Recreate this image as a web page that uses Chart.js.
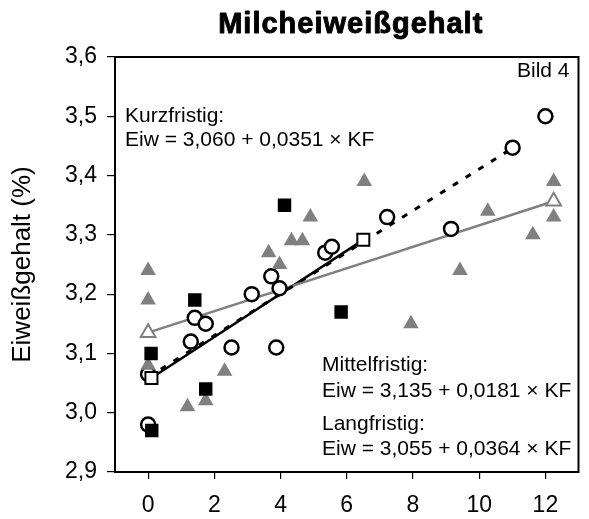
<!DOCTYPE html>
<html>
<head>
<meta charset="utf-8">
<script src="https://cdn.jsdelivr.net/npm/chart.js@4.4.1/dist/chart.umd.min.js"></script>
<style>
  html, body { margin: 0; padding: 0; background: #fff; }
</style>
</head>
<body>
<canvas id="milk" width="589" height="519"></canvas>
<script>
const FONT = '"Liberation Sans", Arial, Helvetica, sans-serif';
Chart.defaults.font.family = FONT;
Chart.defaults.color = '#000';

// ── Daten ─────────────────────────────────────────────────────────
const circleX = [0, 0, 1.29, 1.41, 1.74, 2.52, 3.13, 3.72, 3.97, 3.87, 5.35, 5.55, 7.22, 9.15, 11.01, 12.0];
const circleY = [3.065, 2.98, 3.12, 3.16, 3.15, 3.11, 3.20, 3.23, 3.21, 3.11, 3.27, 3.28, 3.33, 3.31, 3.447, 3.50];

const triX = [0, 0, 0, 1.19, 1.74, 2.31, 3.64, 3.97, 4.33, 4.66, 4.9, 6.53, 7.94, 9.42, 10.26, 11.62, 12.25, 12.25];
const triY = [3.24, 3.19, 3.08, 3.01, 3.02, 3.07, 3.27, 3.25, 3.29, 3.29, 3.33, 3.39, 3.15, 3.24, 3.34, 3.30, 3.39, 3.33];

const squareX = [0.09, 0.11, 1.41, 1.74, 4.12, 5.83];
const squareY = [3.10, 2.97, 3.19, 3.04, 3.35, 3.17];

// Regressionen: Eiw = a + b * KF, gezeichnet von x0 bis x1
const kurzFit   = { a: 3.060, b: 0.0351, x0: 0,   x1: 11.01 };
const mittelFit = { a: 3.135, b: 0.0181, x0: 0,   x1: 12.25 };
const langFit   = { a: 3.055, b: 0.0364, x0: 0.1, x1: 6.5 };

const xTicks = [0, 2, 4, 6, 8, 10, 12];
const yTicks = [2.9, 3.0, 3.1, 3.2, 3.3, 3.4, 3.5, 3.6];

const labels = {
    title: 'Milcheiweißgehalt',
    yTitle: 'Eiweißgehalt (%)',
    bild: 'Bild 4',
    kurz: ['Kurzfristig:', 'Eiw = 3,060 + 0,0351 × KF'],
    mittel: ['Mittelfristig:', 'Eiw = 3,135 + 0,0181 × KF'],
    lang: ['Langfristig:', 'Eiw = 3,055 + 0,0364 × KF'],
};

const pts = (xs, ys) => xs.map((x, i) => ({ x, y: ys[i] }));
const fitPts = (f) => [f.x0, f.x1].map(x => ({ x, y: f.a + f.b * x }));

const GRAY = '#808080';

// ── Beschriftung / Rahmen ─────────────────────────────────────────
const decor = {
    id: 'decor',
    afterDraw(chart) {
        const { ctx, chartArea: a } = chart;
        ctx.save();
        ctx.strokeStyle = '#000';
        ctx.lineWidth = 2;
        ctx.strokeRect(a.left, a.top, a.right - a.left, a.bottom - a.top);

        ctx.fillStyle = '#000';
        ctx.font = 'bold 29px ' + FONT;
        ctx.letterSpacing = '1px';
        ctx.textAlign = 'center';
        ctx.textBaseline = 'alphabetic';
        ctx.lineWidth = 0.9;
        ctx.lineJoin = 'round';
        const tx = (a.left + a.right) / 2 + 4;
        ctx.fillText(labels.title, tx, 33);
        ctx.strokeText(labels.title, tx, 33);
        ctx.letterSpacing = '0px';

        ctx.font = '21px ' + FONT;
        ctx.textAlign = 'right';
        ctx.fillText(labels.bild, a.right - 9, a.top + 20);

        ctx.textAlign = 'left';
        ctx.fillText(labels.kurz[0], a.left + 10, a.top + 65);
        ctx.fillText(labels.kurz[1], a.left + 10, a.top + 89);
        ctx.fillText(labels.mittel[0], a.left + 207, a.top + 314);
        ctx.fillText(labels.mittel[1], a.left + 207, a.top + 340);
        ctx.fillText(labels.lang[0], a.left + 207, a.top + 373);
        ctx.fillText(labels.lang[1], a.left + 207, a.top + 398);
        ctx.restore();
    }
};

new Chart(document.getElementById('milk'), {
    type: 'scatter',
    data: {
        datasets: [
            {   // Kurzfristig Regressionslinie (gestrichelt)
                type: 'line', data: fitPts(kurzFit), order: 10,
                borderColor: '#000', borderWidth: 3, borderDash: [6, 9],
                pointRadius: 0, fill: false,
            },
            {
                type: 'line', data: fitPts(mittelFit), order: 10,
                borderColor: GRAY, borderWidth: 2.5, pointRadius: 0, fill: false,
            },
            {
                type: 'line', data: fitPts(langFit), order: 10,
                borderColor: '#000', borderWidth: 2.5, pointRadius: 0, fill: false,
            },
            {
                data: pts(circleX, circleY), order: 5,
                pointStyle: 'circle', pointRadius: 7,
                backgroundColor: '#fff', borderColor: '#000', borderWidth: 2.5,
            },
            {
                data: pts(triX, triY), order: 4,
                pointStyle: 'triangle', pointRadius: 9,
                backgroundColor: GRAY, borderColor: GRAY, borderWidth: 0,
            },
            {
                data: pts(squareX, squareY), order: 3,
                pointStyle: 'rect', pointRadius: 9.5,
                backgroundColor: '#000', borderColor: '#000', borderWidth: 0,
            },
            {   // offene Dreiecke an den Enden der mittelfristigen Linie
                data: fitPts(mittelFit), order: 1,
                pointStyle: 'triangle', pointRadius: 8.5,
                backgroundColor: '#fff', borderColor: GRAY, borderWidth: 2,
            },
            {   // offene Quadrate an den Enden der langfristigen Linie
                data: fitPts(langFit), order: 1,
                pointStyle: 'rect', pointRadius: 8.5,
                backgroundColor: '#fff', borderColor: '#000', borderWidth: 2,
            },
        ]
    },
    options: {
        responsive: false,
        animation: false,
        events: [],
        layout: { padding: { top: 57, right: 7, left: 0, bottom: 0 } },
        plugins: { legend: { display: false }, tooltip: { enabled: false } },
        scales: {
            x: {
                type: 'linear', min: -1, max: 13,
                afterFit: (s) => { s.height = 47; },
                afterBuildTicks: (s) => { s.ticks = xTicks.map(v => ({ value: v })); },
                grid: { drawOnChartArea: false, drawTicks: true, tickLength: 7, color: '#000', lineWidth: 1.2 },
                border: { display: false },
                ticks: { font: { size: 23 }, padding: 13, maxRotation: 0, minRotation: 0, autoSkip: false,
                         callback: (v) => String(v) },
            },
            y: {
                type: 'linear', min: 2.9, max: 3.6,
                afterFit: (s) => { s.width = 115; },
                afterBuildTicks: (s) => { s.ticks = yTicks.map(v => ({ value: v })); },
                grid: { drawOnChartArea: false, drawTicks: true, tickLength: 8, color: '#000', lineWidth: 1.2 },
                border: { display: false },
                ticks: { font: { size: 23 }, padding: 10, autoSkip: false,
                         callback: (v) => v.toFixed(1).replace('.', ',') },
                title: { display: true, text: labels.yTitle, font: { size: 26 }, color: '#000',
                         padding: { top: 7, bottom: 0 } },
            },
        },
    },
    plugins: [decor],
});
</script>
</body>
</html>
